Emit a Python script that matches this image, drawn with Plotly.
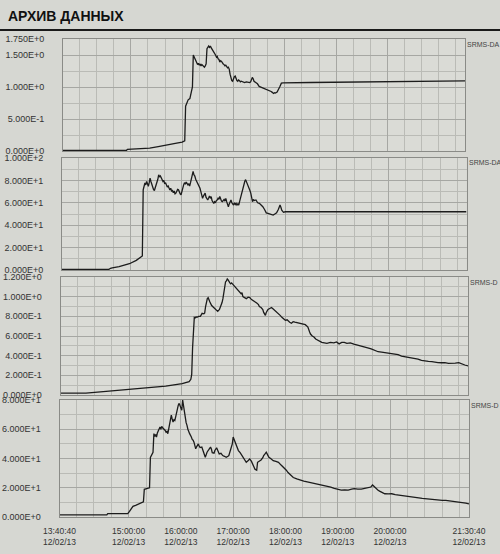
import plotly.graph_objects as go

DATE = "2013-02-12 "
X_START = "13:40:40"
X_END = "21:30:40"

# ---------------- data ----------------
P1_T = ["13:40:40","14:20","14:55","14:56","15:10","15:22","15:32","15:42","15:52","16:00","16:03","16:04","16:06","16:07","16:09","16:10","16:12","16:13","16:14","16:15","16:16","16:17","16:18","16:19","16:20","16:21","16:22","16:23","16:24","16:25","16:26","16:27","16:28","16:29","16:30","16:31","16:32","16:33","16:34","16:35","16:36","16:37","16:38","16:39","16:40","16:41","16:42","16:43","16:44","16:45","16:46","16:47","16:48","16:49","16:50","16:51","16:52","16:53","16:54","16:55","16:56","16:57","16:58","16:59","17:00","17:01","17:02","17:03","17:04","17:05","17:06","17:07","17:08","17:09","17:11","17:13","17:15","17:17","17:19","17:20","17:21","17:22","17:23","17:24","17:26","17:28","17:30","17:32","17:33","17:35","17:36","17:38","17:39","17:41","17:42","17:44","17:45","17:47","17:48","17:49","17:51","17:53","17:54","17:56","17:58","18:30","19:30","20:30","21:30:40"]
P1_V = [0.010,0.010,0.012,0.025,0.032,0.045,0.070,0.100,0.120,0.140,0.160,0.700,0.760,0.800,0.820,0.900,1.000,1.500,1.470,1.440,1.400,1.370,1.350,1.370,1.340,1.360,1.330,1.350,1.340,1.320,1.310,1.330,1.360,1.600,1.620,1.640,1.620,1.640,1.610,1.590,1.570,1.560,1.520,1.500,1.470,1.480,1.440,1.430,1.390,1.410,1.400,1.370,1.360,1.350,1.330,1.340,1.310,1.300,1.310,1.280,1.200,1.120,1.100,1.090,1.140,1.160,1.170,1.120,1.100,1.090,1.110,1.100,1.080,1.090,1.080,1.070,1.080,1.070,1.070,1.080,1.110,1.150,1.130,1.090,1.070,1.050,1.010,1.000,0.990,0.985,0.980,0.970,0.960,0.950,0.950,0.930,0.920,0.900,0.910,0.905,0.920,0.960,1.000,1.060,1.065,1.070,1.075,1.085,1.095]

P2_T = ["13:40:40","14:35","14:37","14:39","14:47","14:55","14:59","15:07","15:14","15:15","15:16","15:17","15:18","15:19","15:20","15:21","15:22","15:23","15:24","15:25","15:26","15:27","15:28","15:29","15:30","15:31","15:32","15:33","15:34","15:35","15:36","15:37","15:38","15:39","15:40","15:41","15:42","15:43","15:44","15:45","15:46","15:47","15:48","15:49","15:50","15:51","15:52","15:53","15:54","15:55","15:56","15:57","15:58","15:59","16:00","16:01","16:02","16:03","16:04","16:05","16:06","16:07","16:08","16:09","16:10","16:11","16:12","16:13","16:14","16:15","16:16","16:17","16:18","16:19","16:20","16:21","16:22","16:23","16:24","16:25","16:26","16:27","16:28","16:29","16:30","16:31","16:32","16:33","16:34","16:35","16:36","16:37","16:38","16:39","16:40","16:41","16:42","16:43","16:44","16:45","16:46","16:47","16:48","16:49","16:50","16:51","16:52","16:53","16:54","16:55","16:56","16:57","16:58","16:59","17:00","17:01","17:02","17:03","17:04","17:05","17:06","17:07","17:08","17:09","17:10","17:11","17:12","17:13","17:14","17:15","17:16","17:17","17:18","17:19","17:20","17:21","17:22","17:23","17:24","17:26","17:28","17:30","17:32","17:34","17:36","17:38","17:40","17:42","17:44","17:46","17:48","17:50","17:52","17:54","17:55","17:56","17:58","18:00","21:30:40"]
P2_V = [0.5,0.5,1.5,2,3,5,5.6,8.6,12.5,71.6,74,77.7,76,79,77,74.7,78,82,79,76,74,72,71,73.5,75,77.7,81,85,83,84,82,80,79,80,77,78,76,74,75,73,71.5,73,70.5,71,69,70.5,68,68.6,70,72,71.6,69,68,67,71,74,76,78,76.5,78.5,77.7,76,77,75,78,80.7,84,88,85,83.8,81,79.5,77.7,76,74.5,73,70,67,64,66,68,68.6,65,63.5,62.5,64,66,64.5,65.6,62,60.5,59.5,61,60,62,62.5,64,63,65.6,63,61.5,61,62.5,63,61.5,64,61,59,56.5,59,61,62.5,60,59,58,60,58.5,59.5,58,59,58,61,64,68.6,72,75,77.7,79,80.7,79,77.5,76,73,71,68.6,64,61,63,62,62.5,60,59.5,58,56.5,54,51,50.5,50,49.5,49,50,51,54,58,56,53.5,51.5,52,52]

P3_T = ["13:40:40","14:10","14:30","14:45","15:02","15:20","15:42","16:01","16:09","16:11","16:12","16:13","16:14","16:15","16:16","16:17","16:18","16:20","16:22","16:23","16:24","16:26","16:27","16:28","16:29","16:30","16:31","16:32","16:33","16:35","16:37","16:39","16:41","16:42","16:44","16:45","16:47","16:48","16:49","16:50","16:51","16:52","16:53","16:54","16:55","16:56","16:57","16:58","17:00","17:02","17:03","17:05","17:07","17:09","17:10","17:11","17:13","17:15","17:17","17:19","17:21","17:23","17:25","17:27","17:29","17:30","17:32","17:34","17:35","17:37","17:38","17:40","17:42","17:44","17:46","17:48","17:50","17:52","17:54","17:56","17:58","18:00","18:02","18:03","18:05","18:07","18:09","18:11","18:13","18:15","18:17","18:19","18:21","18:23","18:25","18:26","18:28","18:29","18:31","18:33","18:35","18:37","18:40","18:42","18:45","18:48","18:52","18:56","18:59","19:02","19:05","19:08","19:11","19:15","19:19","19:23","19:27","19:31","19:35","19:39","19:43","19:47","19:51","19:54","19:58","20:02","20:06","20:10","20:14","20:18","20:22","20:25","20:29","20:33","20:37","20:41","20:45","20:49","20:53","20:56","21:00","21:04","21:08","21:12","21:16","21:20","21:24","21:27","21:30:40"]
P3_V = [0.020,0.020,0.035,0.045,0.060,0.072,0.090,0.115,0.135,0.160,0.210,0.480,0.650,0.790,0.785,0.795,0.790,0.800,0.800,0.815,0.830,0.825,0.835,0.900,0.950,0.980,0.990,0.960,0.945,0.910,0.895,0.880,0.860,0.850,0.870,0.890,0.940,0.980,1.050,1.130,1.150,1.160,1.180,1.170,1.150,1.140,1.130,1.140,1.120,1.100,1.080,1.070,1.050,1.030,1.040,1.000,0.990,0.980,0.995,0.990,0.970,0.960,0.950,0.935,0.920,0.900,0.890,0.870,0.840,0.810,0.840,0.870,0.880,0.890,0.875,0.860,0.845,0.830,0.810,0.790,0.775,0.760,0.765,0.755,0.740,0.730,0.745,0.740,0.735,0.730,0.725,0.720,0.722,0.715,0.700,0.690,0.640,0.620,0.600,0.590,0.570,0.560,0.545,0.535,0.530,0.525,0.535,0.530,0.540,0.520,0.535,0.535,0.525,0.530,0.518,0.510,0.500,0.490,0.480,0.470,0.455,0.440,0.435,0.430,0.428,0.420,0.415,0.410,0.395,0.390,0.382,0.375,0.370,0.365,0.352,0.345,0.342,0.340,0.332,0.330,0.328,0.330,0.322,0.320,0.325,0.330,0.320,0.305,0.295]

P4_T = ["13:40:40","14:35","14:36","14:59","15:01","15:03","15:05","15:08","15:11","15:14","15:17","15:18","15:21","15:24","15:25","15:27","15:28","15:29","15:30","15:31","15:32","15:33","15:34","15:35","15:36","15:37","15:38","15:39","15:40","15:42","15:43","15:44","15:45","15:46","15:47","15:48","15:49","15:50","15:51","15:52","15:53","15:54","15:55","15:56","15:57","15:58","15:59","16:00","16:01","16:02","16:03","16:04","16:05","16:06","16:07","16:08","16:10","16:11","16:12","16:13","16:14","16:15","16:16","16:17","16:18","16:19","16:20","16:21","16:22","16:24","16:25","16:26","16:27","16:28","16:29","16:30","16:32","16:34","16:35","16:36","16:38","16:39","16:41","16:42","16:44","16:46","16:48","16:50","16:52","16:54","16:55","16:57","16:59","17:00","17:01","17:03","17:05","17:06","17:08","17:09","17:11","17:12","17:14","17:15","17:17","17:19","17:21","17:22","17:24","17:25","17:27","17:28","17:30","17:32","17:34","17:35","17:37","17:38","17:40","17:41","17:43","17:46","17:49","17:52","17:55","17:58","18:01","18:03","18:06","18:09","18:13","18:17","18:21","18:25","18:29","18:33","18:37","18:40","18:44","18:48","18:52","18:56","19:00","19:04","19:08","19:12","19:16","19:19","19:23","19:27","19:31","19:35","19:38","19:40","19:43","19:46","19:48","19:51","19:54","19:58","20:02","20:06","20:10","20:14","20:18","20:22","20:25","20:29","20:33","20:37","20:41","20:45","20:49","20:53","20:56","21:00","21:04","21:08","21:12","21:16","21:20","21:24","21:27","21:30:40"]
P4_V = [1.5,1.5,2.3,2.3,3.9,5.5,7.3,8.0,8.8,9.7,10.4,18.9,19.5,20.0,40.8,43.0,44.3,57.0,55.0,56.5,54.7,57.5,59.0,60.4,61.5,60.0,62.0,61.0,60.5,59.2,58.0,58.5,57.0,60.0,63.9,67.0,69.6,67.0,65.0,66.5,66.0,68.5,71.5,75.4,76.5,77.7,75.5,74.0,73.0,80.0,76.0,70.8,67.0,64.5,62.7,60.0,57.0,56.0,54.7,53.0,52.5,51.2,48.5,46.6,48.0,49.5,50.0,48.5,47.5,47.8,46.0,45.4,43.0,40.8,42.5,44.3,46.0,47.8,46.5,44.0,43.6,45.5,47.3,45.5,43.1,43.5,42.0,41.5,40.8,41.5,42.0,46.0,50.0,54.7,53.0,50.0,47.5,45.4,44.0,43.1,41.0,39.7,38.0,37.4,38.5,39.7,38.0,36.2,34.0,32.7,32.0,37.4,38.0,39.0,40.5,42.0,43.5,44.3,42.0,40.8,40.0,38.5,38.0,37.4,35.5,33.9,32.0,30.4,28.5,27.0,26.0,25.1,24.5,24.0,23.5,23.0,22.8,22.4,21.8,21.2,20.5,19.6,19.0,18.4,18.6,18.4,19.0,19.4,19.0,19.0,19.6,20.0,20.5,21.9,20.0,18.5,17.7,16.8,15.9,15.8,15.9,15.3,14.9,14.6,14.3,14.0,13.8,13.4,13.1,12.8,12.5,12.2,12.0,11.7,11.5,11.4,11.3,11.0,10.8,10.6,10.4,10.1,9.5,9.0]

Y_TICKS = [
    [0, 0.5, 1.0, 1.5, 1.75],
    [0, 20, 40, 60, 80, 100],
    [0, 0.2, 0.4, 0.6, 0.8, 1.0, 1.2],
    [0, 20, 40, 60, 80],
]
Y_TEXT = [
    ["0.000E+0", "5.000E-1", "1.000E+0", "1.500E+0", "1.750E+0"],
    ["0.000E+0", "2.000E+1", "4.000E+1", "6.000E+1", "8.000E+1", "1.000E+2"],
    ["0.000E+0", "2.000E-1", "4.000E-1", "6.000E-1", "8.000E-1", "1.000E+0", "1.200E+0"],
    ["0.000E+0", "2.000E+1", "4.000E+1", "6.000E+1", "8.000E+1"],
]
Y_MINOR = [
    [0.25, 0.75, 1.25],
    [10, 30, 50, 70, 90],
    [0.1, 0.3, 0.5, 0.7, 0.9, 1.1],
    [10, 30, 50, 70],
]
Y_RANGES = [[0, 1.75], [0, 100], [0, 1.2], [0, 80]]
SERIES_NAMES = ["SRMS-DA", "SRMS-DA", "SRMS-D", "SRMS-D"]

X_TICKS = ["13:40:40", "15:00:00", "16:00:00", "17:00:00", "18:00:00", "19:00:00", "20:00:00", "21:30:40"]
X_TICK_DATE = "12/02/13"
TITLE = "АРХИВ ДАННЫХ"

# ---------------- layout geometry (pixels) ----------------
W, H = 500, 554
PANEL_X = [(63, 465), (62, 466.5), (60.5, 468), (59.5, 469)]
PANEL_Y = [(39, 151), (158, 270), (277, 395), (400, 517)]


def ts(t):
    return DATE + (t if t.count(":") == 2 else t + ":00")


PAPER = "#d6d7d2"
PLOT_BG = "#dadbd6"
GRID = "#a6a7a3"
GRID_MINOR = "#babbb6"
BORDER = "#8a8b87"
LINE = "#1c1c1c"
FONT = "Liberation Sans, Arial, sans-serif"

series = [(P1_T, P1_V), (P2_T, P2_V), (P3_T, P3_V), (P4_T, P4_V)]

fig = go.Figure()
layout = dict(
    width=W, height=H,
    margin=dict(l=0, r=0, t=0, b=0),
    paper_bgcolor=PAPER, plot_bgcolor=PLOT_BG,
    showlegend=False,
    template="none",
    font=dict(family=FONT, color="#333333", size=9),
)

for i, (tt, vv) in enumerate(series):
    n = "" if i == 0 else str(i + 1)
    fig.add_trace(go.Scatter(
        x=[ts(t) for t in tt], y=vv, mode="lines",
        line=dict(color=LINE, width=1.3),
        xaxis="x" + n, yaxis="y" + n, hoverinfo="skip",
    ))
    x0, x1 = PANEL_X[i]
    y0, y1 = PANEL_Y[i]
    last = (i == 3)
    layout["xaxis" + n] = dict(
        domain=[x0 / W, x1 / W], anchor="y" + n,
        type="date", range=[ts(X_START), ts(X_END)],
        tickmode="array",
        tickvals=[ts(t) for t in X_TICKS],
        ticktext=[f"{t}<br>{X_TICK_DATE}" for t in X_TICKS],
        showticklabels=last, ticks="",
        tickfont=dict(family=FONT, size=8.5, color="#333333"),
        ticklabelstandoff=6,
        showgrid=True, gridcolor=GRID, gridwidth=1,
        minor=dict(showgrid=True, gridcolor=GRID_MINOR, gridwidth=1,
                   tickmode="linear", tick0=ts("14:00"), dtick=20 * 60 * 1000),
        showline=True, mirror=True, linecolor=BORDER, linewidth=1,
        zeroline=False, automargin=False, fixedrange=True,
    )
    layout["yaxis" + n] = dict(
        domain=[1 - y1 / H, 1 - y0 / H], anchor="x" + n,
        range=Y_RANGES[i],
        tickmode="array", tickvals=Y_TICKS[i], ticktext=Y_TEXT[i],
        ticks="", ticklabelstandoff=16,
        tickfont=dict(family=FONT, size=9, color="#333333"),
        showgrid=True, gridcolor=GRID, gridwidth=1,
        minor=dict(showgrid=True, gridcolor=GRID_MINOR, gridwidth=1,
                   tickmode="array", tickvals=Y_MINOR[i]),
        showline=True, mirror=True, linecolor=BORDER, linewidth=1,
        zeroline=False, automargin=False, fixedrange=True,
    )

annotations = [dict(
    x=6 / W, y=1 - 16 / H, xref="paper", yref="paper",
    xanchor="left", yanchor="middle", showarrow=False,
    text=f"<b>{TITLE}</b>",
    font=dict(family=FONT, size=14, color="#111111"),
)]
for i, name in enumerate(SERIES_NAMES):
    annotations.append(dict(
        x=(PANEL_X[i][1] + 1) / W, y=1 - (PANEL_Y[i][0] + 5) / H,
        xref="paper", yref="paper", xanchor="left", yanchor="middle",
        showarrow=False, text=name, borderpad=0,
        font=dict(family=FONT, size=7, color="#444444"),
    ))
layout["annotations"] = annotations
layout["shapes"] = [dict(
    type="line", xref="paper", yref="paper",
    x0=0, x1=1, y0=1 - 30 / H, y1=1 - 30 / H,
    line=dict(color="#1a1a1a", width=2),
)]

fig.update_layout(**layout)
fig.write_html(
    "out.html",
    config={"displayModeBar": False, "staticPlot": True},
    post_script="document.body.style.margin='0';document.body.style.overflow='hidden';",
)
